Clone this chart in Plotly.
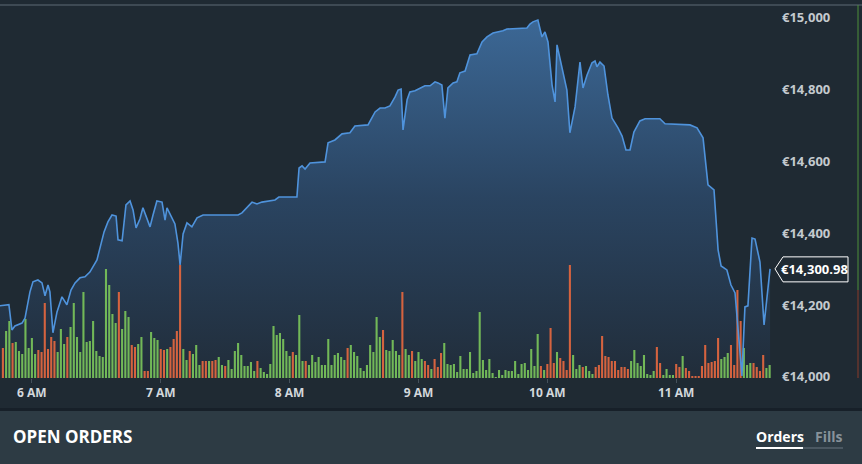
import pandas as pd
import plotly.graph_objects as go

# ---------------- data ----------------
DAY = "2017-12-18"
# price line: minutes after 05:45 and price (EUR)
line_min = [0, 4.3, 5.7, 7.1, 10.4, 11.8, 14.1, 15.5, 17.8, 19.7, 21.1, 22.5, 23.4, 24.8, 26.7,
            29.0, 31.3, 33.2, 35.1, 37.4, 39.7, 42.0, 45.3, 46.7, 48.6, 50.4, 52.3, 54.2, 55.1,
            57.0, 58.8, 60.7, 62.1, 63.5, 65.3, 66.7, 68.6, 70.0, 71.4, 73.2, 75.6, 77.0, 77.9,
            80.2, 81.6, 83.0, 84.0, 85.4, 87.2, 89.5, 91.9, 94.7, 111.0, 112.8, 115.2, 117.5,
            119.8, 122.1, 128.2, 130.0, 138.4, 139.4, 140.8, 142.2, 144.5, 151.5, 152.9, 156.1,
            159.4, 163.1, 165.4, 171.5, 174.8, 177.1, 179.4, 181.7, 184.1, 185.5, 186.9, 187.8,
            189.7, 191.0, 193.4, 195.7, 198.0, 200.4, 202.7, 204.1, 205.9, 207.3, 208.7, 211.1,
            212.9, 214.3, 216.7, 219.0, 222.2, 224.6, 226.9, 229.7, 234.3, 236.2, 245.5, 246.9,
            248.3, 250.6, 252.5, 253.9, 255.3, 257.2, 258.6, 259.5, 262.3, 264.1, 265.5, 267.9,
            270.2, 271.6, 273.5, 275.8, 277.2, 278.1, 279.5, 281.4, 283.2, 285.1, 287.9, 289.8,
            291.6, 293.5, 295.3, 298.1, 300.5, 307.4, 309.8, 321.4, 324.7, 327.5, 329.8, 332.6,
            334.5, 335.9, 338.6, 340.5, 342.4, 344.7, 345.6, 347.0, 348.4, 350.3, 351.7, 354.0,
            355.9, 358.7]
line_price = [14198, 14201, 14131, 14142, 14150, 14164, 14237, 14265, 14270, 14262, 14226, 14256,
              14237, 14123, 14181, 14223, 14201, 14242, 14262, 14276, 14279, 14292, 14326, 14357,
              14404, 14432, 14451, 14448, 14382, 14379, 14479, 14490, 14465, 14415, 14440, 14471,
              14443, 14418, 14451, 14490, 14487, 14437, 14471, 14443, 14426, 14373, 14312, 14398,
              14429, 14418, 14443, 14451, 14451, 14457, 14471, 14487, 14482, 14487, 14493, 14501,
              14501, 14582, 14588, 14579, 14596, 14599, 14652, 14660, 14677, 14680, 14699, 14702,
              14738, 14749, 14749, 14755, 14780, 14799, 14802, 14688, 14772, 14794, 14797, 14805,
              14811, 14811, 14822, 14819, 14813, 14721, 14805, 14819, 14822, 14847, 14852, 14897,
              14900, 14933, 14947, 14958, 14964, 14969, 14972, 14983, 14989, 14994, 14947, 14961,
              14933, 14813, 14766, 14925, 14847, 14799, 14680, 14752, 14877, 14805, 14841, 14875,
              14880, 14864, 14877, 14866, 14786, 14721, 14694, 14671, 14632, 14632, 14682, 14713,
              14719, 14719, 14705, 14702, 14694, 14666, 14535, 14521, 14354, 14309, 14298, 14256,
              14234, 14056, 14003, 14195, 14198, 14387, 14384, 14320, 14145, 14300.98]

# volume bars: one every 1.5 minutes starting 05:46:30
bar_start = "05:46:30"
bar_step_min = 1.5
volume = [
    30, 47, 57, 35, 36, 27, 24, 59, 30, 40, 24, 28, 26, 75, 29, 41, 37, 26, 49, 34, 41, 51, 75, 41, 26,
    86, 36, 37, 57, 27, 22, 21, 109, 93, 64, 55, 86, 49, 67, 61, 33, 31, 34, 41, 7, 7, 46, 40, 38,
    29, 28, 29, 31, 39, 47, 113, 29, 18, 27, 24, 33, 13, 17, 17, 17, 17, 18, 21, 13, 12, 18, 9, 27, 35,
    23, 12, 12, 16, 7, 17, 10, 6, 4, 14, 52, 43, 45, 39, 27, 22, 26, 23, 63, 17, 17, 13, 23, 16, 21,
    13, 13, 39, 13, 23, 25, 21, 18, 30, 33, 26, 22, 10, 7, 13, 33, 26, 61, 41, 48, 28, 27, 38, 27, 23,
    86, 29, 23, 27, 17, 26, 19, 17, 13, 9, 19, 11, 25, 35, 14, 13, 14, 6, 22, 9, 9, 26, 5, 7, 66,
    18, 8, 19, 5, 1, 8, 3, 8, 7, 7, 17, 4, 14, 15, 8, 29, 12, 44, 12, 8, 14, 50, 15, 26, 20, 17, 8,
    113, 23, 9, 13, 11, 12, 7, 4, 11, 13, 42, 22, 21, 17, 17, 8, 11, 11, 9, 17, 28, 15,
    12, 23, 4, 3, 7, 31, 15, 3, 9, 3, 3, 14, 11, 22, 10, 7, 2, 2, 2, 12, 33, 15, 16, 17, 40, 19, 21,
    25, 33, 13, 88, 57, 30, 13, 15, 15, 11, 7, 23, 10, 13]
# bar direction (g = up / green, r = down / red), in groups of ten
side_groups = [
    "rggrgggggg", "grrrrrrggg", "rggggggggg", "ggggggrggg", "rrggrrggg",
    "rrgrrrrggr", "gggrrgrrgg", "rggggggggg", "rggggggggg", "grgggrgggg",
    "ggggggggrg", "gggggggggr", "gggggrggrg", "ggrrgrrrgg", "gggggggggg",
    "gggggggggg", "ggggggggrg", "rrrgrrrrgg", "grgggrrrrr", "rrrrrrggg",
    "gggggrrggg", "grrgrrrrrr", "rrrrrgggrr", "rrgggrrrrg", "g",
]
tick_vals = ["06:00", "07:00", "08:00", "09:00", "10:00", "11:00"]
tick_text = ["6 AM", "7 AM", "8 AM", "9 AM", "10 AM", "11 AM"]
price_ticks = [14000, 14200, 14400, 14600, 14800, 15000]
price_tick_text = ["€14,000", "€14,200", "€14,400", "€14,600", "€14,800", "€15,000"]
last_label = "€14,300.98"
x_range = ["05:45:09", "11:46:00"]

# ---------------- build ----------------
side = list("".join(side_groups))
base = pd.Timestamp(f"{DAY} 05:45:00")
line_t = [base + pd.Timedelta(minutes=m) for m in line_min]
n = min(len(volume), len(side))
bar_t = pd.date_range(f"{DAY} {bar_start}", periods=n, freq=f"{int(bar_step_min*60)}s")
GREEN, RED = "#72b858", "#d5633f"
bar_colors = [GREEN if s == "g" else RED for s in side[:n]]

BG = "#1f2a33"
fig = go.Figure()
fig.add_trace(go.Scatter(
    x=line_t, y=line_price, mode="none", fill="tozeroy", yaxis="y",
    fillgradient=dict(type="vertical", start=14000, stop=15000,
                      colorscale=[[0, "rgb(33,45,58)"], [0.5, "rgb(42,68,97)"], [1, "rgb(60,104,150)"]]),
    hoverinfo="skip", showlegend=False))
fig.add_trace(go.Bar(x=bar_t, y=volume[:n], marker=dict(color=bar_colors, line=dict(width=0)),
                     yaxis="y2", showlegend=False))
fig.add_trace(go.Scatter(x=line_t, y=line_price, mode="lines", yaxis="y3",
                         line=dict(color="#4f93dc", width=1.6), showlegend=False))

W, H = 862, 464
L, R, T, B = 0, 87, 5, 86
pw, ph = W - L - R, H - T - B
def py(Y):  # pixel row -> paper y
    return (H - B - Y) / ph
def px(X):
    return (X - L) / pw

yr = [13997, 15036]
fig.update_layout(
    width=W, height=H, margin=dict(l=L, r=R, t=T, b=B),
    paper_bgcolor=BG, plot_bgcolor=BG, bargap=0.35,
    font=dict(family="Open Sans", color="#c3c9ce"),
    xaxis=dict(type="date", range=[f"{DAY} {x_range[0]}", f"{DAY} {x_range[1]}"],
               tickvals=[f"{DAY} {v}" for v in tick_vals], ticktext=tick_text,
               ticks="outside", ticklen=4, tickcolor="#45515b", showgrid=False, zeroline=False,
               showline=False, tickfont=dict(size=12, color="#d3d8dc", weight=700)),
    yaxis=dict(range=yr, side="right", tickvals=price_ticks, ticktext=price_tick_text,
               showgrid=False, zeroline=False, showline=False, ticks="", ticklabelstandoff=6,
               tickfont=dict(size=13, color="#c3c9ce", weight=700)),
    yaxis2=dict(range=[0, ph], overlaying="y", visible=False),
    yaxis3=dict(range=yr, overlaying="y", visible=False),
)

shapes = [
    dict(type="line", xref="paper", yref="paper", x0=0, x1=px(W), y0=1, y1=1,
         line=dict(color="#4a5660", width=1.5)),
    dict(type="rect", xref="paper", yref="paper", x0=0, x1=px(W), y0=py(411), y1=py(408),
         fillcolor="#172029", line=dict(width=0), layer="below"),
    dict(type="rect", xref="paper", yref="paper", x0=0, x1=px(W), y0=py(H), y1=py(411),
         fillcolor="#2d3b44", line=dict(width=0), layer="below"),
    dict(type="line", xref="paper", yref="paper", x0=px(756), x1=px(803), y0=py(448), y1=py(448),
         line=dict(color="#ffffff", width=2)),
    dict(type="line", xref="paper", yref="paper", x0=px(803), x1=px(843), y0=py(448), y1=py(448),
         line=dict(color="#56636c", width=1.5)),
    dict(type="line", xref="paper", yref="paper", x0=px(858), x1=px(858), y0=1, y1=py(290),
         line=dict(color="#4f8f3a", width=1)),
    dict(type="line", xref="paper", yref="paper", x0=px(858), x1=px(858), y0=py(290), y1=0,
         line=dict(color="#8a3b2a", width=1)),
    dict(type="path", xref="paper", yref="y", xsizemode="pixel", ysizemode="pixel",
         xanchor=1.0, yanchor=line_price[-1],
         path="M 0,0 L 8,12 L 73,12 L 73,-13 L 8,-13 Z",
         fillcolor=BG, line=dict(color="#ffffff", width=1)),
]
fig.update_layout(shapes=shapes)

ann = [
    dict(text=last_label, xref="paper", yref="y", x=px(814), y=line_price[-1], showarrow=False,
         xanchor="center", yanchor="middle", font=dict(size=13, color="#ffffff", weight=700)),
    dict(text="OPEN ORDERS", xref="paper", yref="paper", x=px(11), y=py(437), showarrow=False,
         xanchor="left", yanchor="middle", font=dict(size=17, color="#ffffff", weight=700)),
    dict(text="Orders", xref="paper", yref="paper", x=px(779.5), y=py(437), showarrow=False,
         xanchor="center", yanchor="middle", font=dict(size=14, color="#ffffff", weight=700)),
    dict(text="Fills", xref="paper", yref="paper", x=px(829), y=py(437), showarrow=False,
         xanchor="center", yanchor="middle", font=dict(size=14, color="#87929a", weight=700)),
]
fig.update_layout(annotations=ann)

fig.write_html("out.html", config={"displayModeBar": False},
               post_script="document.body.style.margin='0';")
